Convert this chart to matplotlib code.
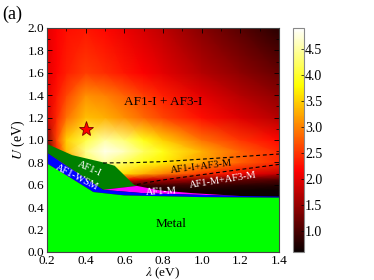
import numpy as np
import matplotlib
matplotlib.use("Agg")
import matplotlib.pyplot as plt
from matplotlib.patches import Polygon
from matplotlib.ticker import MultipleLocator

plt.rcParams['font.family'] = ['Liberation Serif', 'DejaVu Serif']
plt.rcParams['mathtext.fontset'] = 'stix'

# value field (eV), rows = U, columns = lambda
lam = [0.2, 0.25, 0.3, 0.4, 0.5, 0.6, 0.7, 0.8, 1.0, 1.2, 1.4]
U = [0.45, 0.55, 0.6, 0.65, 0.7, 0.8, 0.9, 1.0, 1.2, 1.4, 1.6, 2.0]
Z = [
    [0.6, 0.6, 0.6, 0.6, 0.6, 0.6, 0.6, 0.6, 0.6, 0.6, 0.6],
    [0.6, 0.6, 0.7, 0.8, 0.8, 0.75, 0.7, 0.7, 0.7, 0.65, 0.62],
    [0.6, 0.8, 1.2, 1.5, 1.2, 1.0, 0.95, 1.0, 0.95, 0.85, 0.8],
    [0.6, 1.2, 2.0, 2.8, 2.6, 2.2, 1.9, 1.8, 1.5, 1.25, 1.1],
    [0.7, 1.5, 2.5, 3.5, 3.8, 3.6, 3.3, 3.0, 2.5, 2.1, 1.8],
    [0.8, 2.0, 3.0, 4.2, 4.5, 4.2, 3.9, 3.7, 3.2, 2.8, 2.4],
    [1.0, 2.4, 3.4, 4.4, 4.8, 4.6, 4.2, 3.9, 3.3, 2.8, 2.4],
    [1.4, 2.6, 3.5, 4.1, 4.5, 4.3, 3.9, 3.5, 2.9, 2.5, 2.2],
    [1.9, 2.4, 2.9, 3.4, 3.3, 3.1, 2.85, 2.6, 2.25, 1.95, 1.7],
    [2.0, 2.3, 2.6, 3.1, 3.0, 2.8, 2.55, 2.35, 2.0, 1.7, 1.45],
    [2.0, 2.2, 2.35, 2.55, 2.45, 2.3, 2.15, 2.0, 1.7, 1.45, 1.2],
    [2.0, 2.15, 2.25, 2.3, 2.2, 2.05, 1.9, 1.75, 1.4, 1.1, 0.8],
]

# phase boundaries (lambda, U)
metal_top = [(0.2, 0.79), (0.44, 0.535), (0.6, 0.505), (1.0, 0.49), (1.4, 0.485)]
wsm_top = [(0.2, 0.885), (0.49, 0.555), (0.7, 0.525), (1.2, 0.50), (1.4, 0.495)]
af1i_top = [(0.2, 0.965), (0.33, 0.865), (0.49, 0.80), (0.55, 0.77), (0.65, 0.60), (0.665, 0.59)]
af1m_top = [(0.49, 0.555), (0.665, 0.59), (0.785, 0.55), (0.955, 0.525), (1.2, 0.50)]
dash_upper = [(0.49, 0.795), (0.65, 0.798), (0.8, 0.807), (1.1, 0.84), (1.4, 0.875)]
dash_lower = [(0.665, 0.603), (0.785, 0.64), (1.0, 0.69), (1.2, 0.737), (1.4, 0.782)]
star = (0.4, 1.1)

fig = plt.figure(figsize=(3.74, 2.8), dpi=100)
ax = fig.add_axes([0.1257, 0.1, 0.6203, 0.8])
cax = fig.add_axes([0.783, 0.1, 0.0294, 0.8])

L, UU = np.meshgrid(lam, U)
mesh = ax.pcolormesh(L, UU, np.array(Z), cmap='hot', vmin=0.6, vmax=4.9,
                     shading='gouraud', rasterized=True)

# metal region
ax.add_patch(Polygon([(0.2, 0.0)] + metal_top + [(1.4, 0.0)],
                     closed=True, fc='#00ff00', ec='none', zorder=3))
# Weyl semimetal band
ax.add_patch(Polygon(wsm_top + metal_top[::-1], closed=True,
                     fc='#0000ff', ec='none', zorder=2.9))
# AF1-I
ax.add_patch(Polygon(af1i_top + [(0.49, 0.555), (0.2, 0.885)], closed=True,
                     fc='#008000', ec='none', zorder=2.8))
# AF1-M
ax.add_patch(Polygon(af1m_top + [(0.7, 0.525)], closed=True,
                     fc='#ff00ff', ec='none', zorder=2.8))

for line in (dash_upper, dash_lower):
    xs, ys = zip(*line)
    ax.plot(xs, ys, '--', color='black', lw=0.8, dashes=(3.5, 2.5), zorder=4)

ax.plot(*star, marker='*', ms=11, mfc='red', mec='#7a0000', mew=0.6, zorder=5)

ax.text(0.8, 1.34, 'AF1-I + AF3-I', fontsize=9.5, ha='center', va='center', zorder=6)
ax.text(0.84, 0.25, 'Metal', fontsize=9.5, ha='center', va='center', zorder=6)
ax.text(0.42, 0.745, 'AF1-I', fontsize=7.5, color='white', rotation=-24,
        ha='center', va='center', zorder=6)
ax.text(0.355, 0.665, 'AF1-WSM', fontsize=7.5, color='white', rotation=-27,
        ha='center', va='center', zorder=6)
ax.text(0.79, 0.535, 'AF1-M', fontsize=7.5, color='white', rotation=3,
        ha='center', va='center', zorder=6)
ax.text(1.0, 0.76, 'AF1-I+AF3-M', fontsize=7.5, color='black', rotation=7,
        ha='center', va='center', zorder=6)
ax.text(1.11, 0.645, 'AF1-M+AF3-M', fontsize=7.5, color='white', rotation=9,
        ha='center', va='center', zorder=6)

ax.set_xlim(0.2, 1.4)
ax.set_ylim(0.0, 2.0)
ax.xaxis.set_major_locator(MultipleLocator(0.2))
ax.xaxis.set_minor_locator(MultipleLocator(0.1))
ax.yaxis.set_major_locator(MultipleLocator(0.2))
ax.yaxis.set_minor_locator(MultipleLocator(0.1))
ax.tick_params(which='both', direction='in', top=True, right=True, labelsize=9.5)
ax.tick_params(which='major', length=3.5, width=0.6, pad=2)
ax.tick_params(which='minor', length=2, width=0.5)
for s in ax.spines.values():
    s.set_linewidth(0.8)
    s.set_color('#444444')
    s.set_zorder(7)
ax.set_xlabel(r'$\lambda$ (eV)', fontsize=9.5, va='center')
ax.xaxis.set_label_coords(0.5, -0.094)
ax.set_ylabel(r'$U$ (eV)', fontsize=10, labelpad=0)

cb = fig.colorbar(mesh, cax=cax, ticks=[1.0, 1.5, 2.0, 2.5, 3.0, 3.5, 4.0, 4.5])
cb.ax.tick_params(direction='in', length=2.5, width=0.5, labelsize=10, pad=1)
cb.outline.set_edgecolor('#888888')
cb.ax.yaxis.set_major_formatter(plt.FormatStrFormatter('%.1f'))

fig.text(0.005, 0.95, '(a)', fontsize=13, ha='left', va='center')

fig.savefig('out.png', dpi=100)
